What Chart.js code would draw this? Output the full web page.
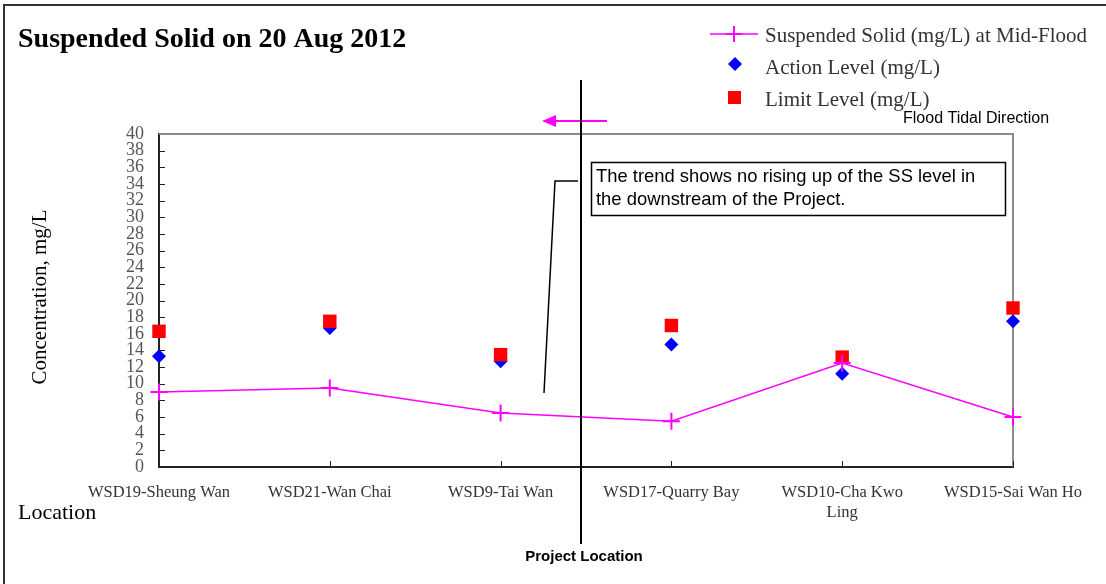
<!DOCTYPE html>
<html>
<head>
<meta charset="utf-8">
<script src="https://cdn.jsdelivr.net/npm/chart.js@4"></script>
<style>
  html, body { margin: 0; padding: 0; background: #fff; }
  #wrap { width: 1106px; height: 584px; position: relative; }
</style>
</head>
<body>
<div id="wrap"><canvas id="c" width="1106" height="584"></canvas></div>
<script>
// ---- data ----
const categories = [
  'WSD19-Sheung Wan',
  'WSD21-Wan Chai',
  'WSD9-Tai Wan',
  'WSD17-Quarry Bay',
  ['WSD10-Cha Kwo', 'Ling'],
  'WSD15-Sai Wan Ho'
];
const suspendedSolid = [9.0, 9.5, 6.5, 5.5, 12.5, 6.0];
const actionLevel    = [13.3, 16.7, 12.7, 14.7, 11.2, 17.5];
const limitLevel     = [16.3, 17.5, 13.5, 17.0, 13.2, 19.1];
const yTicks = { min: 0, max: 40, step: 2 };

const titleText = 'Suspended Solid on 20 Aug 2012';
const seriesNames = ['Suspended Solid (mg/L) at Mid-Flood', 'Action Level (mg/L)', 'Limit Level (mg/L)'];
const noteLines = ['The trend shows no rising up of the SS level in', 'the downstream of the Project.'];

const SERIF = '"Liberation Serif", "Times New Roman", serif';
const SANS = '"Liberation Sans", Arial, sans-serif';

const decor = {
  id: 'decor',
  beforeDatasetsDraw(chart) {
    const ctx = chart.ctx;
    const a = chart.chartArea;
    const xs = chart.scales.x, ys = chart.scales.y;
    ctx.save();
    // gray top/right border of plot area
    ctx.strokeStyle = '#8c8c8c';
    ctx.lineWidth = 2;
    ctx.beginPath();
    ctx.moveTo(a.left, a.top);
    ctx.lineTo(a.right, a.top);
    ctx.lineTo(a.right, a.bottom);
    ctx.stroke();
    // inward ticks
    ctx.strokeStyle = '#222';
    ctx.lineWidth = 1;
    ctx.beginPath();
    for (let v = yTicks.min + yTicks.step; v < yTicks.max; v += yTicks.step) {
      const y = Math.round(ys.getPixelForValue(v)) + 0.5;
      ctx.moveTo(a.left, y); ctx.lineTo(a.left + 6, y);
    }
    for (let i = 1; i < categories.length; i++) {
      const x = Math.round(xs.getPixelForValue(i)) + 0.5;
      ctx.moveTo(x, a.bottom); ctx.lineTo(x, a.bottom - 6);
    }
    ctx.stroke();
    ctx.restore();
  },
  afterDraw(chart) {
    const ctx = chart.ctx;
    const ds = chart.data.datasets;
    ctx.save();
    // outer frame (top & left)
    ctx.strokeStyle = '#333';
    ctx.lineWidth = 2;
    ctx.beginPath();
    ctx.moveTo(1106, 5); ctx.lineTo(4, 5); ctx.lineTo(4, 584);
    ctx.stroke();

    // title
    ctx.fillStyle = '#000';
    ctx.font = 'bold 28px ' + SERIF;
    ctx.textAlign = 'left';
    ctx.textBaseline = 'alphabetic';
    ctx.fillText(titleText, 18, 47);

    // legend
    ctx.font = '21px ' + SERIF;
    ctx.fillStyle = '#333';
    ctx.strokeStyle = ds[0].borderColor;
    ctx.lineWidth = 1.5;
    ctx.beginPath(); ctx.moveTo(710, 34); ctx.lineTo(758, 34); ctx.stroke();
    ctx.lineWidth = 2;
    ctx.beginPath(); ctx.moveTo(734, 26); ctx.lineTo(734, 42); ctx.moveTo(726, 34); ctx.lineTo(742, 34); ctx.stroke();
    ctx.fillText(seriesNames[0], 765, 42);
    ctx.fillStyle = ds[1].backgroundColor;
    ctx.beginPath(); ctx.moveTo(735, 57); ctx.lineTo(742, 64); ctx.lineTo(735, 71); ctx.lineTo(728, 64); ctx.closePath(); ctx.fill();
    ctx.fillStyle = '#333';
    ctx.fillText(seriesNames[1], 765, 74);
    ctx.fillStyle = ds[2].backgroundColor;
    ctx.fillRect(728, 91, 13, 13);
    ctx.fillStyle = '#333';
    ctx.fillText(seriesNames[2], 765, 106);

    // Flood tidal direction
    ctx.fillStyle = '#000';
    ctx.font = '16px ' + SANS;
    ctx.fillText('Flood Tidal Direction', 903, 123);
    ctx.strokeStyle = '#ff00ff';
    ctx.fillStyle = '#ff00ff';
    ctx.lineWidth = 2;
    ctx.beginPath(); ctx.moveTo(607, 121); ctx.lineTo(552, 121); ctx.stroke();
    ctx.beginPath(); ctx.moveTo(542, 121); ctx.lineTo(556, 115); ctx.lineTo(556, 127); ctx.closePath(); ctx.fill();

    // project location line
    ctx.strokeStyle = '#000';
    ctx.lineWidth = 2;
    ctx.beginPath(); ctx.moveTo(581, 80); ctx.lineTo(581, 544); ctx.stroke();
    ctx.font = 'bold 15px ' + SANS;
    ctx.textAlign = 'center';
    ctx.fillStyle = '#000';
    ctx.fillText('Project Location', 584, 561);

    // note box
    ctx.fillStyle = '#fff';
    ctx.fillRect(591, 162, 415, 53);
    ctx.strokeStyle = '#000';
    ctx.lineWidth = 1.5;
    ctx.strokeRect(591.5, 162.5, 414, 53);
    ctx.fillStyle = '#000';
    ctx.textAlign = 'left';
    ctx.font = '18.4px ' + SANS;
    ctx.fillText(noteLines[0], 596, 182);
    ctx.fillText(noteLines[1], 596, 205);
    ctx.lineWidth = 1.5;
    ctx.beginPath(); ctx.moveTo(578, 181); ctx.lineTo(555, 181); ctx.lineTo(544, 393); ctx.stroke();

    // axis titles
    ctx.fillStyle = '#000';
    ctx.font = '21px ' + SERIF;
    ctx.save();
    ctx.translate(46, 297);
    ctx.rotate(-Math.PI / 2);
    ctx.textAlign = 'center';
    ctx.fillText('Concentration, mg/L', 0, 0);
    ctx.restore();
    ctx.font = '22px ' + SERIF;
    ctx.textAlign = 'left';
    ctx.fillText('Location', 18, 519);
    ctx.restore();
  }
};

new Chart(document.getElementById('c'), {
  type: 'line',
  data: {
    labels: categories,
    datasets: [
      {
        label: seriesNames[0],
        data: suspendedSolid,
        borderColor: '#ff00ff',
        backgroundColor: '#ff00ff',
        borderWidth: 1.5,
        pointStyle: 'cross',
        pointRadius: 8.5,
        pointBorderWidth: 2,
        tension: 0,
        clip: false,
        order: 0
      },
      {
        label: seriesNames[1],
        data: actionLevel,
        showLine: false,
        borderColor: '#0000ff',
        backgroundColor: '#0000ff',
        pointStyle: 'rectRot',
        pointRadius: 7,
        pointBorderWidth: 0,
        clip: false,
        order: 2
      },
      {
        label: seriesNames[2],
        data: limitLevel,
        showLine: false,
        borderColor: '#ff0000',
        backgroundColor: '#ff0000',
        pointStyle: 'rect',
        pointRadius: 9.5,
        pointBorderWidth: 0,
        clip: false,
        order: 1
      }
    ]
  },
  plugins: [decor],
  options: {
    responsive: false,
    animation: false,
    events: [],
    layout: { padding: { left: 0, top: 134, right: 93, bottom: 0 } },
    plugins: { legend: { display: false }, title: { display: false }, tooltip: { enabled: false } },
    scales: {
      x: {
        type: 'category',
        offset: false,
        grid: { display: true, drawOnChartArea: false, drawTicks: false },
        border: { display: true, color: '#222', width: 2 },
        ticks: {
          autoSkip: false, maxRotation: 0, minRotation: 0,
          color: '#333', padding: 16,
          font: { family: SERIF, size: 16.5 }
        },
        afterFit(s) { s.height = 117; }
      },
      y: {
        min: yTicks.min, max: yTicks.max,
        grid: { display: true, drawOnChartArea: false, drawTicks: false },
        border: { display: true, color: '#222', width: 2 },
        ticks: {
          stepSize: yTicks.step,
          autoSkip: false,
          color: '#555', padding: 15,
          font: { family: SERIF, size: 18, lineHeight: 1 }
        },
        afterFit(s) { s.width = 159; }
      }
    }
  }
});
</script>
</body>
</html>
